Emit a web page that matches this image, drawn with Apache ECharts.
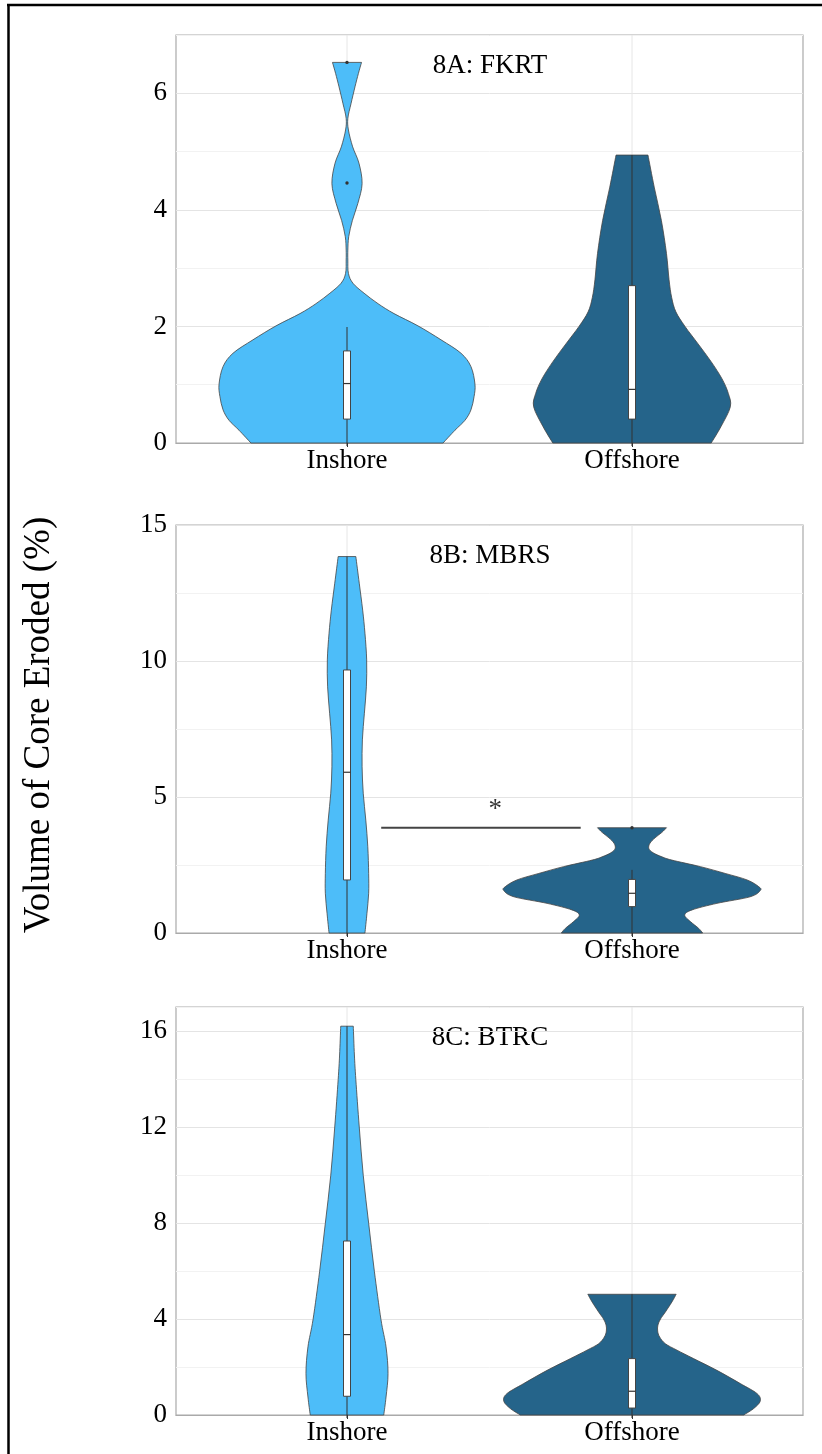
<!DOCTYPE html>
<html>
<head>
<meta charset="utf-8">
<script src="https://cdn.jsdelivr.net/npm/echarts@6/dist/echarts.min.js"></script>
<style>
  html, body { margin: 0; padding: 0; background: #fff; }
  #main { width: 822px; height: 1454px; }
</style>
</head>
<body>
<div id="main"></div>
<script>
const categories = ['Inshore', 'Offshore'];
const panelTitles = ['8A: FKRT', '8B: MBRS', '8C: BTRC'];
const yMaxes = [7, 15, 17];
const yIntervals = [1, 2.5, 2];
const yLabelSteps = [2, 5, 4];

// violin outlines: levels (y) and half widths (in category units)
const fkrtInshoreY = [0, 0.22, 0.39, 0.57, 0.80, 1.01, 1.31, 1.54, 1.77, 2.01, 2.22, 2.39, 2.57, 2.74, 2.91, 3.14, 3.31, 3.54, 3.82, 4.11, 4.45, 4.80, 5.08, 5.37, 5.57, 5.82, 6.11, 6.34, 6.53];
const fkrtInshoreW = [0.337, 0.379, 0.414, 0.435, 0.446, 0.449, 0.435, 0.400, 0.330, 0.249, 0.165, 0.109, 0.060, 0.021, 0.005, 0.003, 0.003, 0.006, 0.019, 0.038, 0.053, 0.042, 0.020, 0.005, 0.003, 0.014, 0.028, 0.040, 0.051];
const fkrtOffshoreY = [0, 0.28, 0.62, 0.85, 1.10, 1.40, 1.70, 2.00, 2.25, 2.50, 2.80, 3.25, 3.82, 4.39, 4.94];
const fkrtOffshoreW = [0.278, 0.312, 0.345, 0.338, 0.316, 0.277, 0.232, 0.186, 0.154, 0.139, 0.130, 0.121, 0.103, 0.078, 0.056];

const mbrsInshoreY = [0, 0.72, 1.46, 2.19, 3.17, 4.15, 5.14, 6.11, 7.10, 8.08, 9.05, 10.04, 11.02, 11.87, 12.86, 13.84];
const mbrsInshoreW = [0.063, 0.070, 0.076, 0.076, 0.073, 0.066, 0.057, 0.053, 0.054, 0.061, 0.068, 0.069, 0.063, 0.055, 0.043, 0.031];
const mbrsOffshoreY = [0, 0.17, 0.42, 0.66, 0.85, 1.09, 1.33, 1.56, 1.70, 1.95, 2.19, 2.44, 2.68, 2.80, 2.95, 3.11, 3.30, 3.50, 3.70, 3.87];
const mbrsOffshoreW = [0.248, 0.234, 0.205, 0.185, 0.211, 0.298, 0.414, 0.450, 0.445, 0.404, 0.327, 0.240, 0.140, 0.105, 0.074, 0.059, 0.063, 0.081, 0.105, 0.121];

const btrcInshoreY = [0, 0.75, 1.73, 2.84, 3.99, 5.99, 7.99, 9.99, 12.0, 13.98, 15.0, 16.2];
const btrcInshoreW = [0.129, 0.137, 0.144, 0.137, 0.119, 0.096, 0.076, 0.057, 0.043, 0.031, 0.026, 0.022];
const btrcOffshoreY = [0, 0.27, 0.58, 0.89, 1.31, 1.86, 2.35, 2.70, 2.97, 3.25, 3.50, 3.75, 4.00, 4.29, 4.71, 5.03];
const btrcOffshoreW = [0.392, 0.427, 0.450, 0.439, 0.380, 0.298, 0.216, 0.158, 0.117, 0.097, 0.090, 0.091, 0.100, 0.117, 0.140, 0.155];

// box stats: [low whisker, q1, median, q3, high whisker]
const fkrtInshoreBox = [0, 0.41, 1.02, 1.58, 1.99];
const fkrtOffshoreBox = [0, 0.41, 0.92, 2.70, 4.94];
const mbrsInshoreBox = [0, 1.95, 5.91, 9.67, 13.84];
const mbrsOffshoreBox = [0, 0.97, 1.46, 1.97, 2.32];
const btrcInshoreBox = [0, 0.78, 3.35, 7.25, 16.2];
const btrcOffshoreBox = [0, 0.29, 0.99, 2.35, 5.03];

const fkrtInshoreOutliers = [4.46, 6.53];
const mbrsOffshoreOutliers = [3.87];

// significance bar in 8B
const mbrsSigX = [0.12, 0.82];
const mbrsSigY = 3.87;
const mbrsStarX = 0.52;

const levels = [[fkrtInshoreY, fkrtOffshoreY], [mbrsInshoreY, mbrsOffshoreY], [btrcInshoreY, btrcOffshoreY]];
const widths = [[fkrtInshoreW, fkrtOffshoreW], [mbrsInshoreW, mbrsOffshoreW], [btrcInshoreW, btrcOffshoreW]];
const boxes = [[fkrtInshoreBox, fkrtOffshoreBox], [mbrsInshoreBox, mbrsOffshoreBox], [btrcInshoreBox, btrcOffshoreBox]];
const outliers = [[fkrtInshoreOutliers, []], [[], mbrsOffshoreOutliers], [[], []]];

const colors = ['#4dbdf9', '#25648a'];
const font = 'Liberation Serif';
const gridTops = [35, 525, 1007];

function spline(p) {
  let s = '';
  for (let i = 0; i < p.length - 1; i++) {
    const p0 = p[Math.max(i - 1, 0)], p1 = p[i], p2 = p[i + 1], p3 = p[Math.min(i + 2, p.length - 1)];
    const c1 = [p1[0] + (p2[0] - p0[0]) / 6, p1[1] + (p2[1] - p0[1]) / 6];
    const c2 = [p2[0] - (p3[0] - p1[0]) / 6, p2[1] - (p3[1] - p1[1]) / 6];
    s += ' C' + c1.join(' ') + ' ' + c2.join(' ') + ' ' + p2.join(' ');
  }
  return s;
}

function violin(panel) {
  return function (params, api) {
    const k = params.dataIndex;
    const cx = api.value(0);
    const ys = levels[panel][k], ws = widths[panel][k];
    const right = ys.map((y, i) => api.coord([cx + ws[i], y]));
    const left = ys.map((y, i) => api.coord([cx - ws[i], y])).reverse();
    let d = 'M' + left[left.length - 1].join(' ') + ' L' + right[0].join(' ');
    d += spline(right);
    d += ' L' + left[0].join(' ');
    d += spline(left) + ' Z';

    const cs = params.coordSys;
    const px = api.coord([cx, 0])[0];
    const b = boxes[panel][k].map(v => api.coord([cx, v])[1]);
    const hw = 3.5;
    const children = [
      { type: 'line', shape: { x1: px, y1: cs.y, x2: px, y2: cs.y + cs.height }, style: { stroke: '#e6e6e6', lineWidth: 1 } },
      { type: 'path', shape: { pathData: d }, style: { fill: colors[k], stroke: '#444', lineWidth: 0.8 } },
      { type: 'line', shape: { x1: px, y1: b[0] + 3, x2: px, y2: b[4] }, style: { stroke: '#333', lineWidth: 1 } },
      { type: 'rect', shape: { x: px - hw, y: b[3], width: hw * 2, height: b[1] - b[3] }, style: { fill: '#fff', stroke: '#444', lineWidth: 1 } },
      { type: 'line', shape: { x1: px - hw, y1: b[2], x2: px + hw, y2: b[2] }, style: { stroke: '#333', lineWidth: 1.2 } }
    ];
    outliers[panel][k].forEach(o => {
      children.push({ type: 'circle', shape: { cx: px, cy: api.coord([cx, o])[1], r: 1.7 }, style: { fill: '#333' } });
    });
    return { type: 'group', children: children };
  };
}

const grids = [], xAxes = [], yAxes = [], series = [];
for (let i = 0; i < 3; i++) {
  grids.push({ left: 176, right: 19, top: gridTops[i], height: 408, show: true, borderColor: '#aaa', borderWidth: 1.2, backgroundColor: 'transparent' });
  xAxes.push({
    gridIndex: i, type: 'value', min: -0.6, max: 1.6,
    axisLine: { show: true, lineStyle: { color: '#aaa', width: 1.2 } },
    axisTick: { show: true, customValues: [0, 1], length: 4, lineStyle: { color: '#333' } },
    axisLabel: { customValues: [0, 1], formatter: v => categories[Math.round(v)], fontSize: 27, fontFamily: font, color: '#000', margin: 4 },
    splitLine: { show: false }
  });
  const step = yLabelSteps[i];
  yAxes.push({
    gridIndex: i, type: 'value', min: 0, max: yMaxes[i], interval: yIntervals[i],
    axisLine: { show: false }, axisTick: { show: false },
    axisLabel: {
      formatter: v => (Math.abs(v / step - Math.round(v / step)) < 1e-6 ? String(v) : ''),
      fontSize: 27, fontFamily: font, color: '#000', margin: 9
    },
    splitLine: { show: true, lineStyle: { color: ['#e4e4e4', '#f2f2f2'], width: 1 } }
  });
  series.push({
    type: 'custom', xAxisIndex: i, yAxisIndex: i, clip: false,
    renderItem: violin(i),
    data: categories.map((c, j) => [j])
  });
}

series.push({
  type: 'line', xAxisIndex: 1, yAxisIndex: 1, symbol: 'none', silent: true,
  data: mbrsSigX.map(x => [x, mbrsSigY]),
  lineStyle: { color: '#444', width: 2 }
});
series.push({
  type: 'scatter', xAxisIndex: 1, yAxisIndex: 1, symbolSize: 1, silent: true,
  itemStyle: { color: 'transparent' },
  data: [[mbrsStarX, mbrsSigY]],
  label: { show: true, formatter: '*', position: 'top', distance: 4, fontSize: 27, fontFamily: font, color: '#000' }
});

const graphics = [
  { type: 'line', shape: { x1: 7, y1: 5, x2: 822, y2: 5 }, style: { stroke: '#000', lineWidth: 2.5 } },
  { type: 'line', shape: { x1: 8.5, y1: 4, x2: 8.5, y2: 1454 }, style: { stroke: '#000', lineWidth: 2.5 } },
  { type: 'text', x: 39, y: 725, rotation: Math.PI / 2,
    style: { text: 'Volume of Core Eroded (%)', fontSize: 37, fontFamily: font, fill: '#000', align: 'center', verticalAlign: 'middle' } }
];
panelTitles.forEach((t, i) => {
  graphics.push({ type: 'text', x: 490, y: gridTops[i] + 31,
    style: { text: t, fontSize: 27, fontFamily: font, fill: '#000', align: 'center', verticalAlign: 'middle' } });
});

const chart = echarts.init(document.getElementById('main'));
chart.setOption({
  animation: false,
  backgroundColor: '#fff',
  grid: grids,
  xAxis: xAxes,
  yAxis: yAxes,
  series: series,
  graphic: { elements: graphics }
});
</script>
</body>
</html>
